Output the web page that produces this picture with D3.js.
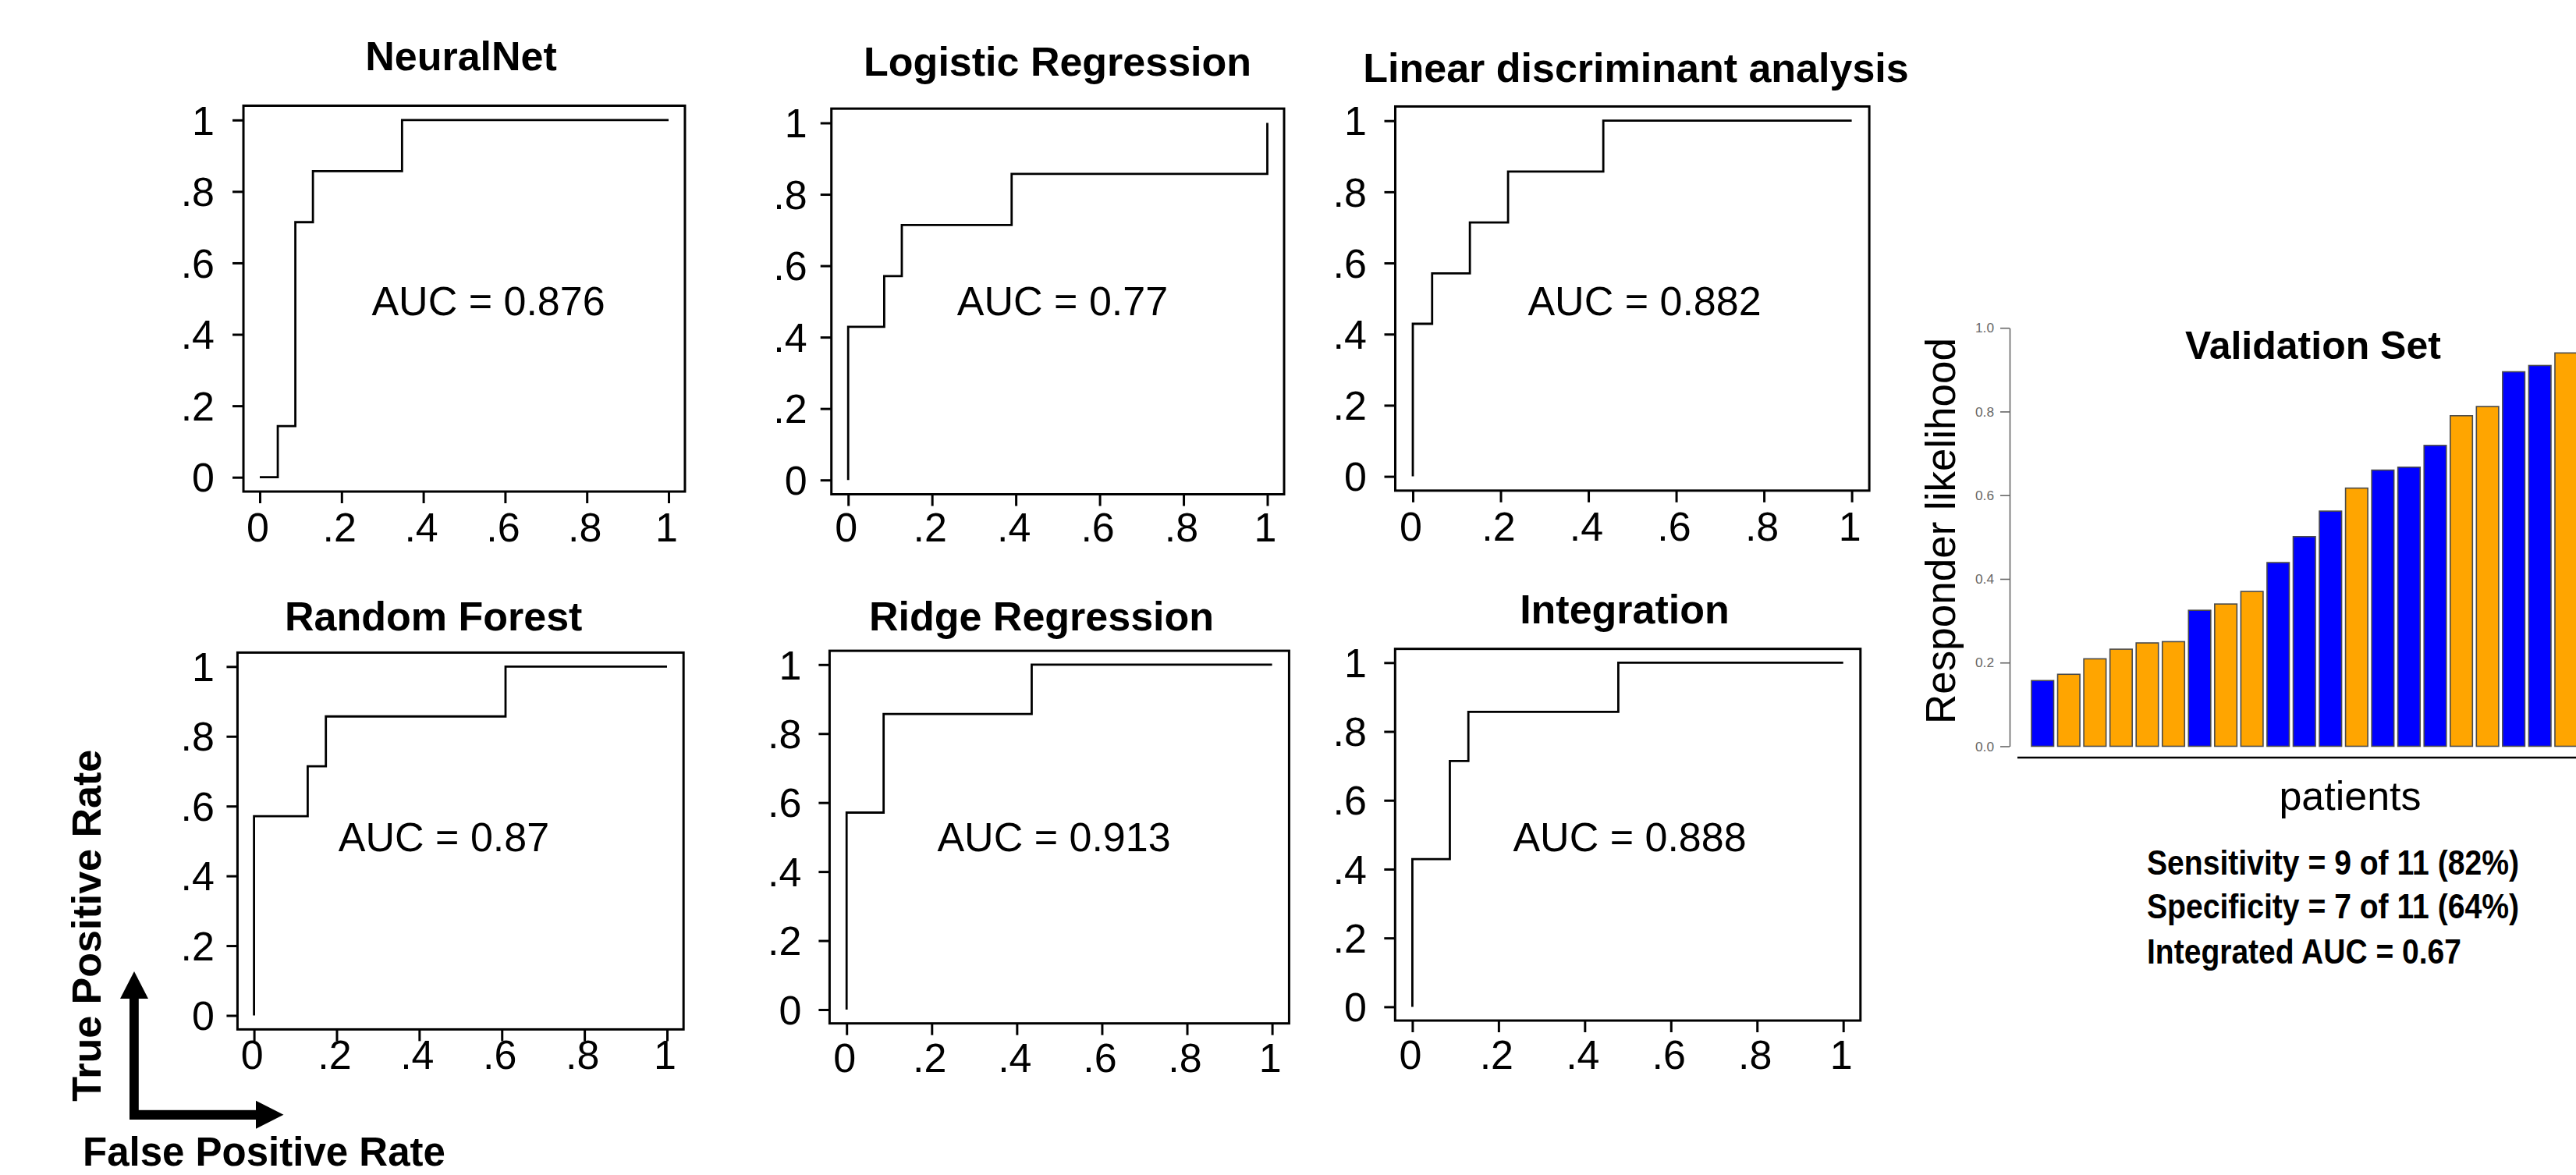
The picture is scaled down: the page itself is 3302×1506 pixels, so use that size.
<!DOCTYPE html>
<html>
<head>
<meta charset="utf-8">
<script src="https://cdn.jsdelivr.net/npm/d3@7"></script>
<style>
  html, body { margin: 0; padding: 0; background: #fff; }
  svg { display: block; }
</style>
</head>
<body>
<script>
// ---------------- DATA ----------------
const modelNames = ["NeuralNet", "Logistic Regression", "Linear discriminant analysis",
                    "Random Forest", "Ridge Regression", "Integration"];
const aucValues = ["0.876", "0.77", "0.882", "0.87", "0.913", "0.888"];

// ROC corner points (false positive rate, true positive rate)
const nnFPR  = [0, 0.044, 0.044, 0.087, 0.087, 0.130, 0.130, 0.348, 0.348, 1];
const nnTPR  = [0, 0,     0.143, 0.143, 0.714, 0.714, 0.857, 0.857, 1,     1];
const lrFPR  = [0, 0,     0.086, 0.086, 0.128, 0.128, 0.390, 0.390, 1,     1];
const lrTPR  = [0, 0.429, 0.429, 0.571, 0.571, 0.714, 0.714, 0.857, 0.857, 1];
const ldaFPR = [0, 0,     0.044, 0.044, 0.130, 0.130, 0.217, 0.217, 0.434, 0.434, 1];
const ldaTPR = [0, 0.429, 0.429, 0.571, 0.571, 0.714, 0.714, 0.857, 0.857, 1,     1];
const rfFPR  = [0, 0,     0.130, 0.130, 0.174, 0.174, 0.609, 0.609, 1];
const rfTPR  = [0, 0.571, 0.571, 0.714, 0.714, 0.857, 0.857, 1,     1];
const rrFPR  = [0, 0,     0.087, 0.087, 0.435, 0.435, 1];
const rrTPR  = [0, 0.571, 0.571, 0.857, 0.857, 1,     1];
const intFPR = [0, 0,     0.087, 0.087, 0.130, 0.130, 0.478, 0.478, 1];
const intTPR = [0, 0.429, 0.429, 0.714, 0.714, 0.857, 0.857, 1,     1];

const rocFPR = [nnFPR, lrFPR, ldaFPR, rfFPR, rrFPR, intFPR];
const rocTPR = [nnTPR, lrTPR, ldaTPR, rfTPR, rrTPR, intTPR];

const rocTickValues = [0, 0.2, 0.4, 0.6, 0.8, 1];
const rocTickLabels = ["0", ".2", ".4", ".6", ".8", "1"];

// Validation set bar chart
const patientScores = [0.157, 0.172, 0.209, 0.232, 0.247, 0.250, 0.325, 0.340, 0.370, 0.439,
                       0.501, 0.562, 0.617, 0.660, 0.667, 0.719, 0.790, 0.812, 0.895, 0.910, 0.940];
const patientGroup  = ["blue", "orange", "orange", "orange", "orange", "orange", "blue", "orange", "orange", "blue",
                       "blue", "blue", "orange", "blue", "blue", "blue", "orange", "orange", "blue", "blue", "orange"];
const barTickValues = [0, 0.2, 0.4, 0.6, 0.8, 1.0];
const summaryLines = ["Sensitivity = 9 of 11 (82%)", "Specificity = 7 of 11 (64%)", "Integrated AUC = 0.67"];

// ---------------- LAYOUT ----------------
const W = 3302, H = 1506;
const FONT = "'Liberation Sans', Arial, Helvetica, sans-serif";
const panelLayout = [
  {x0: 333,    x1: 857,    y0: 611.7,  y1: 153.8, titleX: 591,    titleY: 90,    aucX: 626,  aucY: 404,  xlabY: 676,  ylabGap: 37},
  {x0: 1087.2, x1: 1624.5, y0: 615.2,  y1: 157.5, titleX: 1355.6, titleY: 97,    aucX: 1362, aucY: 404,  xlabY: 676,  ylabGap: 31},
  {x0: 1811,   x1: 2373.6, y0: 610.6,  y1: 154.7, titleX: 2097,   titleY: 104.7, aucX: 2108, aucY: 404,  xlabY: 675,  ylabGap: 36.5},
  {x0: 325.6,  x1: 855,    y0: 1301.5, y1: 854.3, titleX: 555.7,  titleY: 807.7, aucX: 569,  aucY: 1091, xlabY: 1352, ylabGap: 29.5},
  {x0: 1085.2, x1: 1630.6, y0: 1294,   y1: 851.8, titleX: 1335,   titleY: 807.7, aucX: 1351, aucY: 1091, xlabY: 1356, ylabGap: 36},
  {x0: 1810.4, x1: 2362.7, y0: 1290.4, y1: 849.3, titleX: 2082.5, titleY: 798.7, aucX: 2089, aucY: 1091, xlabY: 1352, ylabGap: 36.5}
];
const colorMap = {blue: "#0000FF", orange: "#FFA500"};

const svg = d3.select("body").append("svg")
  .attr("width", W).attr("height", H)
  .attr("viewBox", `0 0 ${W} ${H}`)
  .style("font-family", FONT);
svg.append("rect").attr("width", W).attr("height", H).attr("fill", "#fff");

// ---------------- ROC PANELS ----------------
modelNames.forEach((name, i) => {
  const L = panelLayout[i];
  const g = svg.append("g").attr("class", "roc-panel");
  const x = d3.scaleLinear().domain([0, 1]).range([L.x0, L.x1]);
  const y = d3.scaleLinear().domain([0, 1]).range([L.y0, L.y1]);
  const bx0 = x(-0.04), bx1 = x(1.04), byBottom = y(-0.04), byTop = y(1.04);

  // x axis
  const xa = g.append("g").attr("transform", `translate(0,${byBottom})`)
    .call(d3.axisBottom(x).tickValues(rocTickValues)
      .tickFormat((d, k) => rocTickLabels[k]).tickSize(15).tickSizeOuter(0));
  xa.select(".domain").remove();
  xa.selectAll(".tick line").attr("stroke", "#000").attr("stroke-width", 3);
  xa.selectAll(".tick text")
    .attr("x", -3)
    .attr("y", L.xlabY - byBottom).attr("dy", "0.35em")
    .attr("font-size", 52).attr("font-family", FONT).attr("fill", "#000");

  // y axis
  const ya = g.append("g").attr("transform", `translate(${bx0},0)`)
    .call(d3.axisLeft(y).tickValues(rocTickValues)
      .tickFormat((d, k) => rocTickLabels[k]).tickSize(14).tickSizeOuter(0));
  ya.select(".domain").remove();
  ya.selectAll(".tick line").attr("stroke", "#000").attr("stroke-width", 3);
  ya.selectAll(".tick text")
    .attr("x", -L.ylabGap).attr("dy", "0.35em")
    .attr("font-size", 52).attr("font-family", FONT).attr("fill", "#000");

  // box
  g.append("rect")
    .attr("x", bx0).attr("y", byTop)
    .attr("width", bx1 - bx0).attr("height", byBottom - byTop)
    .attr("fill", "none").attr("stroke", "#000").attr("stroke-width", 3);

  // ROC curve
  const pts = rocFPR[i].map((f, k) => [f, rocTPR[i][k]]);
  g.append("path")
    .datum(pts)
    .attr("d", d3.line().x(d => x(d[0])).y(d => y(d[1])))
    .attr("fill", "none").attr("stroke", "#000")
    .attr("stroke-width", 2.8).attr("stroke-linejoin", "miter");

  // title
  g.append("text")
    .attr("x", L.titleX).attr("y", L.titleY)
    .attr("text-anchor", "middle")
    .attr("font-size", 52).attr("font-weight", "bold")
    .text(name);

  // AUC label
  g.append("text")
    .attr("x", L.aucX).attr("y", L.aucY)
    .attr("text-anchor", "middle")
    .attr("font-size", 52)
    .text("AUC = " + aucValues[i]);
});

// ---------------- AXIS KEY (arrows) ----------------
const key = svg.append("g").attr("class", "axis-key");
key.append("rect").attr("x", 166).attr("y", 1278).attr("width", 11.8).attr("height", 157).attr("fill", "#000");
key.append("polygon").attr("points", "154,1280 190,1280 172,1245").attr("fill", "#000");
key.append("rect").attr("x", 166).attr("y", 1422.8).attr("width", 164).attr("height", 12.2).attr("fill", "#000");
key.append("polygon").attr("points", "328,1410.7 328,1446.7 363.5,1428.8").attr("fill", "#000");
key.append("text")
  .attr("transform", "translate(128.5,1411.7) rotate(-90)")
  .attr("font-size", 52).attr("font-weight", "bold")
  .text("True Positive Rate");
key.append("text")
  .attr("x", 106).attr("y", 1494)
  .attr("font-size", 51).attr("font-weight", "bold")
  .text("False Positive Rate");

// ---------------- VALIDATION SET BAR CHART ----------------
const bars = svg.append("g").attr("class", "validation");
const by = d3.scaleLinear().domain([0, 1]).range([956.5, 420.2]);
const bxs = d3.scaleBand().domain(d3.range(patientScores.length))
  .range([2604, 3303.5]).paddingInner(0.15).paddingOuter(0);

bars.selectAll("rect.bar")
  .data(patientScores)
  .join("rect")
  .attr("class", "bar")
  .attr("x", (d, i) => bxs(i))
  .attr("width", bxs.bandwidth())
  .attr("y", d => by(d))
  .attr("height", d => by(0) - by(d))
  .attr("fill", (d, i) => colorMap[patientGroup[i]])
  .attr("stroke", "#4a4a4a").attr("stroke-width", 1.6);

const bya = bars.append("g").attr("transform", "translate(2576,0)")
  .call(d3.axisLeft(by).tickValues(barTickValues).tickFormat(d3.format(".1f"))
    .tickSize(12).tickSizeOuter(0));
bya.select(".domain").attr("stroke", "#666").attr("stroke-width", 1.6);
bya.selectAll(".tick line").attr("stroke", "#666").attr("stroke-width", 1.6);
bya.selectAll(".tick text")
  .attr("x", -20).attr("dy", "0.35em")
  .attr("font-size", 16).attr("font-family", FONT).attr("fill", "#666")
  .attr("textLength", 24).attr("lengthAdjust", "spacingAndGlyphs");

// baseline under bars
bars.append("line")
  .attr("x1", 2586).attr("x2", W + 5)
  .attr("y1", 971).attr("y2", 971)
  .attr("stroke", "#000").attr("stroke-width", 2.5);

bars.append("text")
  .attr("x", 2965).attr("y", 460)
  .attr("text-anchor", "middle")
  .attr("font-size", 50).attr("font-weight", "bold")
  .text("Validation Set");

bars.append("text")
  .attr("transform", "translate(2506,680.5) rotate(-90)")
  .attr("text-anchor", "middle")
  .attr("font-size", 53)
  .text("Responder likelihood");

bars.append("text")
  .attr("x", 3012.5).attr("y", 1038)
  .attr("text-anchor", "middle")
  .attr("font-size", 52)
  .text("patients");

const summaryWidths = [477, 477, 403];
const summaryBase = [1121, 1177, 1235];
summaryLines.forEach((t, i) => {
  bars.append("text")
    .attr("x", 2752).attr("y", summaryBase[i])
    .attr("font-size", 45).attr("font-weight", "bold")
    .attr("textLength", summaryWidths[i]).attr("lengthAdjust", "spacingAndGlyphs")
    .text(t);
});
</script>
</body>
</html>
